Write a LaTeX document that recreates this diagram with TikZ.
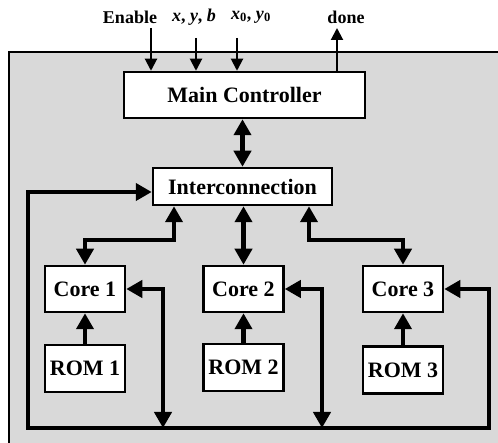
\documentclass[tikz,border=0pt]{standalone}
\usepackage{fontspec}
\setmainfont{Liberation Serif}
\usetikzlibrary{arrows.meta}
\begin{document}
\begin{tikzpicture}[x=1pt,y=-1pt,
  box/.style={draw,fill=white,line width=2.5pt,inner sep=0pt,font=\bfseries\fontsize{22}{24}\selectfont},
  lbl/.style={font=\bfseries\fontsize{18}{20}\selectfont,inner sep=0pt},
  bus/.style={line width=4.5pt},
  sig/.style={line width=2pt},
  tip/.style={-{Triangle[length=16pt,width=17pt]}},
  dtip/.style={{Triangle[length=16pt,width=17pt]}-{Triangle[length=16pt,width=17pt]}},
  stip/.style={-{Triangle[length=12pt,width=12pt]}}]
\clip (0,0) rectangle (498,443);
\fill[white] (0,0) rectangle (498,443);
\draw[fill={rgb,255:red,217;green,217;blue,217},line width=2.5pt] (9,52) rectangle (520,470);

\node[box,minimum width=241pt,minimum height=46pt] (mc) at (244.5,95) {Main Controller};
\node[box,minimum width=179pt,minimum height=37pt] (ic) at (242.5,186.5) {Interconnection};
\node[box,minimum width=80pt,minimum height=46pt] (core1) at (85,289) {Core 1};
\node[box,minimum width=80pt,minimum height=46pt] (core2) at (243.5,289) {Core 2};
\node[box,minimum width=80pt,minimum height=46pt] (core3) at (403,289) {Core 3};
\node[box,minimum width=80pt,minimum height=47pt] (rom1) at (85,368.5) {ROM 1};
\node[box,minimum width=80pt,minimum height=47pt] (rom2) at (243.5,367.5) {ROM 2};
\node[box,minimum width=80pt,minimum height=47pt] (rom3) at (403,370) {ROM 3};

\node[lbl] (len) at (130,17) {Enable};
\node[lbl] (lxyb) at (194,17) {\textit{x}, \textit{y}, \textit{b}};
\node[lbl] (lx0) at (251,17) {\textit{x}\textsubscript{0}, \textit{y}\textsubscript{0}};
\node[lbl] (ldone) at (346,17) {done};

\coordinate (in1) at (151,28);
\coordinate (in2) at (196,38);
\coordinate (in3) at (237,38);
\coordinate (out) at (337,28);
\draw[sig,stip] (in1) -- (in1 |- mc.north);
\draw[sig,stip] (in2) -- (in2 |- mc.north);
\draw[sig,stip] (in3) -- (in3 |- mc.north);
\draw[sig,stip] (out |- mc.north) -- (out);

\draw[bus,dtip] (mc.south -| ic.north) -- (ic.north);

\coordinate (k1) at (174,240);
\coordinate (k3) at (309,240);
\draw[bus,dtip] (k1 |- ic.south) -- (k1) -| (core1.north);
\draw[bus,dtip] (ic.south -| core2.north) -- (core2.north);
\draw[bus,dtip] (k3 |- ic.south) -- (k3) -| (core3.north);

\draw[bus,tip] (rom1) -- (core1);
\draw[bus,tip] (rom2) -- (core2);
\draw[bus,tip] (rom3) -- (core3);

\coordinate (bl) at (28,428);
\coordinate (br) at (489,428);
\coordinate (t1) at (163,428);
\coordinate (t2) at (322,428);
\draw[bus,dtip] (ic.west |- 0,192) -| (bl) -- (br) |- (core3.east);
\draw[bus,dtip] (core1.east) -| (t1);
\draw[bus,dtip] (core2.east) -| (t2);
\end{tikzpicture}
\end{document}
